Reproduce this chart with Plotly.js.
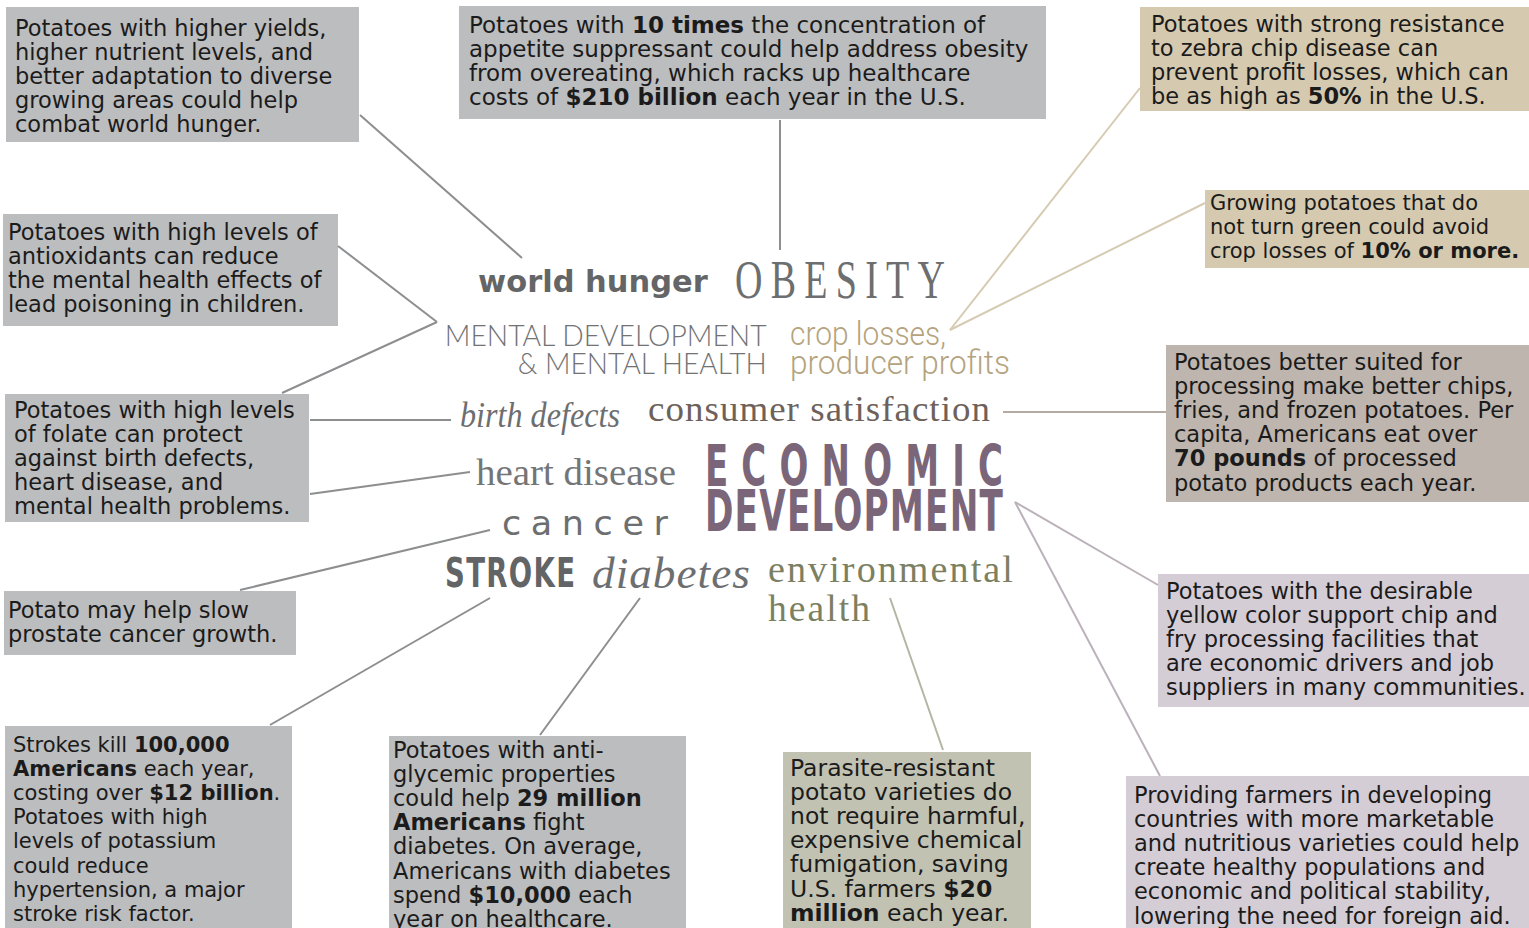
<!DOCTYPE html>
<html><head><meta charset="utf-8">
<script src="https://cdn.plot.ly/plotly-3.0.1.min.js"></script>
<style>html,body{margin:0;padding:0;background:#fff;}</style>
</head><body>
<div id="chart" style="width:1529px;height:928px;"></div>
<script>
// ---------- DATA ----------
const boxHunger = ["Potatoes with higher yields,", "higher nutrient levels, and", "better adaptation to diverse", "growing areas could help", "combat world hunger."];
const boxObesity = ["Potatoes with <b>10 times</b> the concentration of", "appetite suppressant could help address obesity", "from overeating, which racks up healthcare", "costs of <b>$210 billion</b> each year in the U.S."];
const boxZebra = ["Potatoes with strong resistance", "to zebra chip disease can", "prevent profit losses, which can", "be as high as <b>50%</b> in the U.S."];
const boxGreen = ["Growing potatoes that do", "not turn green could avoid", "crop losses of <b>10% or more.</b>"];
const boxAntiox = ["Potatoes with high levels of", "antioxidants can reduce", "the mental health effects of", "lead poisoning in children."];
const boxFolate = ["Potatoes with high levels", "of folate can protect", "against birth defects,", "heart disease, and", "mental health problems."];
const boxProcessing = ["Potatoes better suited for", "processing make better chips,", "fries, and frozen potatoes. Per", "capita, Americans eat over", "<b>70 pounds</b> of processed", "potato products each year."];
const boxProstate = ["Potato may help slow", "prostate cancer growth."];
const boxYellow = ["Potatoes with the desirable", "yellow color support chip and", "fry processing facilities that", "are economic drivers and job", "suppliers in many communities."];
const boxStroke = ["Strokes kill <b>100,000</b>", "<b>Americans</b> each year,", "costing over <b>$12 billion</b>.", "Potatoes with high", "levels of potassium", "could reduce", "hypertension, a major", "stroke risk factor."];
const boxDiabetes = ["Potatoes with anti-", "glycemic properties", "could help <b>29 million</b>", "<b>Americans</b> fight", "diabetes. On average,", "Americans with diabetes", "spend <b>$10,000</b> each", "year on healthcare."];
const boxParasite = ["Parasite-resistant", "potato varieties do", "not require harmful,", "expensive chemical", "fumigation, saving", "U.S. farmers <b>$20</b>", "<b>million</b> each year."];
const boxProviding = ["Providing farmers in developing", "countries with more marketable", "and nutritious varieties could help", "create healthy populations and", "economic and political stability,", "lowering the need for foreign aid."];

const cloudWords = ["world hunger", "OBESITY", "MENTAL DEVELOPMENT", "& MENTAL HEALTH", "crop losses,", "producer profits",
  "birth defects", "consumer satisfaction", "heart disease", "ECONOMIC", "DEVELOPMENT", "cancer", "STROKE", "diabetes",
  "environmental", "health"];

// ---------- LAYOUT CONFIG (positions / styles) ----------
const GRAY = "#bcbdbf", TAN = "#d5cab0", TAUPE = "#bdb5ae", MAUVE = "#d5cdd5", OLIVE = "#c1c2b2";
const boxes = [
  {lines: boxHunger,     r: [6, 7, 359, 142],     tx: 13,   ty: 28,  fill: GRAY,  fs: 22.5},
  {lines: boxObesity,    r: [459, 6, 1046, 119],  tx: 467,  ty: 25,  fill: GRAY,  fs: 23},
  {lines: boxZebra,      r: [1140, 7, 1529, 111], tx: 1149, ty: 24,  fill: TAN,   fs: 22.5},
  {lines: boxGreen,      r: [1205, 190, 1529, 268], tx: 1208, ty: 203, fill: TAN, fs: 21},
  {lines: boxAntiox,     r: [3, 214, 338, 326],   tx: 6,    ty: 232, fill: GRAY,  fs: 22.5},
  {lines: boxFolate,     r: [5, 394, 309, 522],   tx: 12,   ty: 410, fill: GRAY,  fs: 22.5},
  {lines: boxProcessing, r: [1166, 345, 1529, 502], tx: 1172, ty: 362, fill: TAUPE, fs: 22.5},
  {lines: boxProstate,   r: [4, 591, 296, 655],   tx: 6,    ty: 610, fill: GRAY,  fs: 22.5},
  {lines: boxYellow,     r: [1158, 574, 1529, 707], tx: 1164, ty: 591, fill: MAUVE, fs: 22.5},
  {lines: boxStroke,     r: [5, 726, 292, 928],   tx: 11,   ty: 745, fill: GRAY,  fs: 21},
  {lines: boxDiabetes,   r: [389, 736, 686, 928], tx: 391,  ty: 750, fill: GRAY,  fs: 22.5},
  {lines: boxParasite,   r: [783, 752, 1031, 928], tx: 788, ty: 768, fill: OLIVE, fs: 23.5},
  {lines: boxProviding,  r: [1126, 776, 1529, 928], tx: 1132, ty: 795, fill: MAUVE, fs: 22.5}
];
const LINE_GAP = 24.1;

const SERIF = "Liberation Serif", SANS = "DejaVu Sans";
// w = target rendered width (px) : text is horizontally fitted to it
const wordStyle = [
  {x: 476, y: 281, anchor: "left",  w: 230, ls: 0,  font: {family: SANS, size: 30, weight: 700, color: "#646567"}},
  {x: 733, y: 279, anchor: "left",  w: 210, ls: 12, font: {family: SERIF, size: 55, color: "#6d6e70"}},
  {x: 769, y: 334, anchor: "right", w: 322, ls: 0,  font: {family: "Lato", size: 30, weight: 300, color: "#717274"}},
  {x: 769, y: 362, anchor: "right", w: 249, ls: 0,  font: {family: "Lato", size: 30, weight: 300, color: "#717274"}},
  {x: 788, y: 333, anchor: "left",  w: 156, ls: 0,  font: {family: "Roboto", size: 34, weight: 300, color: "#b4a37e"}},
  {x: 788, y: 362, anchor: "left",  w: 220, ls: 0,  font: {family: "Roboto", size: 34, weight: 300, color: "#b4a37e"}},
  {x: 458, y: 415, anchor: "left",  w: 160, ls: 0,  font: {family: SERIF, size: 36, style: "italic", color: "#6d6e70"}},
  {x: 646, y: 409, anchor: "left",  w: 342, ls: 1,  font: {family: SERIF, size: 35, color: "#6e615a"}},
  {x: 474, y: 472, anchor: "left",  w: 200, ls: 0,  font: {family: SERIF, size: 37, color: "#747577"}},
  {x: 703, y: 466, anchor: "left",  w: 298, ls: 22, font: {family: SANS, size: 57, weight: 700, color: "#7b6679"}},
  {x: 703, y: 511, anchor: "left",  w: 298, ls: 2,  font: {family: SANS, size: 57, weight: 700, color: "#7b6679"}},
  {x: 500, y: 523, anchor: "left",  w: 166, ls: 9,  font: {family: SANS, size: 33, color: "#6d6e70"}},
  {x: 443, y: 573, anchor: "left",  w: 130, ls: 2,  font: {family: SANS, size: 41, weight: 700, color: "#636466"}},
  {x: 590, y: 573, anchor: "left",  w: 158, ls: 1,  font: {family: SERIF, size: 44, style: "italic", color: "#6d6e70"}},
  {x: 766, y: 569, anchor: "left",  w: 245, ls: 2,  font: {family: SERIF, size: 37, color: "#7c8062"}},
  {x: 766, y: 608, anchor: "left",  w: 102, ls: 2,  font: {family: SERIF, size: 37, color: "#7c8062"}}
];

// connector lines: [x0,y0,x1,y1,color]
const LG = "#8d8e90", LT = "#d6cbb2", LB = "#b5aba4", LM = "#bbb1ba", LO = "#b4b5a2";
const connectors = [
  [360, 115, 522, 258, LG],
  [780, 120, 780, 250, LG],
  [338, 246, 437, 322, LG],
  [437, 322, 282, 393, LG],
  [310, 420, 451, 420, LG],
  [310, 494, 470, 472, LG],
  [240, 590, 490, 530, LG],
  [270, 725, 490, 598, LG],
  [540, 735, 640, 598, LG],
  [890, 598, 943, 750, LO],
  [950, 330, 1140, 88, LT],
  [950, 330, 1205, 203, LT],
  [1003, 412, 1166, 412, LB],
  [1015, 502, 1158, 585, LM],
  [1015, 502, 1160, 776, LM]
];

// ---------- BUILD ----------
const shapes = [];
const annotations = [];
const fitInfo = {};
boxes.forEach(b => {
  shapes.push({type: "rect", xref: "x", yref: "y", x0: b.r[0], y0: b.r[1], x1: b.r[2], y1: b.r[3],
    fillcolor: b.fill, line: {width: 0}, layer: "below"});
  b.lines.forEach((t, i) => {
    annotations.push({xref: "x", yref: "y", x: b.tx, y: b.ty + i * LINE_GAP, text: t, showarrow: false,
      xanchor: "left", yanchor: "middle", align: "left",
      font: {family: SANS, size: b.fs, color: "#1b1b1b"}});
  });
});
connectors.forEach(c => {
  shapes.push({type: "line", xref: "x", yref: "y", x0: c[0], y0: c[1], x1: c[2], y1: c[3],
    line: {color: c[4], width: 2}, layer: "below"});
});
cloudWords.forEach((w, i) => {
  const s = wordStyle[i];
  fitInfo[annotations.length] = s;
  annotations.push({xref: "x", yref: "y", x: s.x, y: s.y, text: w, showarrow: false,
    xanchor: s.anchor, yanchor: "middle", align: s.anchor, font: s.font});
});

const layout = {
  width: 1529, height: 928,
  margin: {l: 0, r: 0, t: 0, b: 0, pad: 0},
  paper_bgcolor: "#ffffff", plot_bgcolor: "#ffffff",
  xaxis: {range: [0, 1529], visible: false, fixedrange: true},
  yaxis: {range: [928, 0], visible: false, fixedrange: true},
  showlegend: false,
  shapes: shapes,
  annotations: annotations
};

Plotly.newPlot("chart", [{x: [], y: [], type: "scatter", mode: "markers", hoverinfo: "skip"}], layout,
  {staticPlot: true, displayModeBar: false}).then(gd => {
  Object.keys(fitInfo).forEach(k => {
    const s = fitInfo[k];
    const t = gd.querySelector('.annotation[data-index="' + k + '"] text');
    if (!t) return;
    if (s.ls) t.style.letterSpacing = s.ls + "px";
    const bb = t.getBBox();
    const natural = bb.width - (s.ls || 0);
    const sx = s.w / natural;
    const ax = s.anchor === "right" ? bb.x + bb.width - (s.ls || 0) : bb.x;
    t.setAttribute("transform", "translate(" + ax + ",0) scale(" + sx + ",1) translate(" + (-ax) + ",0)");
  });
});
</script>
</body></html>
